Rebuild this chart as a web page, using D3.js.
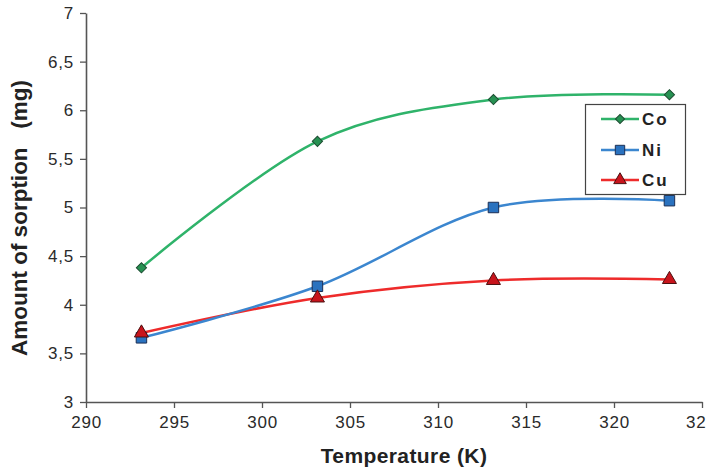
<!DOCTYPE html>
<html>
<head>
<meta charset="utf-8">
<script src="https://cdn.jsdelivr.net/npm/d3@7"></script>
<style>
  body { margin: 0; background: #fff; }
  text { font-family: "Liberation Sans", Arial, sans-serif; }
</style>
</head>
<body>
<div id="chart"></div>
<script>
// Data
const temperatures = [293.15, 303.15, 313.15, 323.15];
const coValues = [4.38, 5.68, 6.11, 6.16];
const niValues = [3.66, 4.19, 5.00, 5.07];
const cuValues = [3.71, 4.07, 4.25, 4.26];
const seriesNames = ['Co', 'Ni', 'Cu'];
const xTicks = [290, 295, 300, 305, 310, 315, 320, 325];
const yTicks = [3, 3.5, 4, 4.5, 5, 5.5, 6, 6.5, 7];

const W = 706, H = 474;
const svg = d3.select('#chart').append('svg')
  .attr('width', W)
  .attr('height', H);

const x = d3.scaleLinear().domain([290, 325]).range([86, 702]);
const y = d3.scaleLinear().domain([3, 7]).range([402, 13]);

const fmt = d => String(d).replace('.', ',');

// Axes
const xAxis = svg.append('g')
  .attr('transform', `translate(0,${y(3)})`)
  .call(d3.axisBottom(x).tickValues(xTicks).tickSize(6).tickSizeOuter(0).tickPadding(5)
    .tickFormat(d => d === 325 ? '32' : d));
const yAxis = svg.append('g')
  .attr('transform', `translate(${x(290)},0)`)
  .call(d3.axisLeft(y).tickValues(yTicks).tickSize(6).tickSizeOuter(0).tickPadding(6)
    .tickFormat(fmt));

[xAxis, yAxis].forEach(a => {
  a.select('.domain').attr('stroke', '#555').attr('stroke-width', 1.6);
  a.selectAll('.tick line').attr('stroke', '#555').attr('stroke-width', 1.3);
  a.selectAll('.tick text')
    .attr('fill', '#2a2a2a')
    .style('font-size', '17px')
    .style('letter-spacing', '0.8px');
});
xAxis.selectAll('.tick text').attr('dy', '0.9em');
// last label is cut by the right edge in the original, keep it inside
xAxis.selectAll('.tick text').filter(d => d === 325)
  .attr('text-anchor', 'end')
  .attr('x', 706 - x(325));

// Axis titles
svg.append('text')
  .attr('x', 404)
  .attr('y', 463)
  .attr('text-anchor', 'middle')
  .style('font-size', '21px')
  .style('font-weight', 'bold')
  .style('letter-spacing', '0.4px')
  .attr('fill', '#222')
  .text('Temperature (K)');

svg.append('text')
  .attr('transform', 'translate(27,218) rotate(-90)')
  .attr('text-anchor', 'middle')
  .style('font-size', '22.5px')
  .style('font-weight', 'bold')
  .attr('fill', '#222')
  .attr('xml:space', 'preserve')
  .text('Amount of sorption   (mg)');

// Series
const series = [
  { name: seriesNames[0], values: coValues, line: '#2fb36a', fill: '#279152', stroke: '#1d4d32', shape: d3.symbolSquare, size: 52, rot: 45 },
  { name: seriesNames[1], values: niValues, line: '#3b86cf', fill: '#2a72bf', stroke: '#1b2f55', shape: d3.symbolSquare, size: 110, rot: 0 },
  { name: seriesNames[2], values: cuValues, line: '#ee2b2b', fill: '#c8141c', stroke: '#4a1010', shape: d3.symbolTriangle, size: 85, rot: 0 }
];

const line = d3.line()
  .x((d, i) => x(temperatures[i]))
  .y(d => y(d))
  .curve(d3.curveCatmullRom.alpha(0));

// draw Cu first so Ni/Co sit over it where they cross
[series[2], series[1], series[0]].forEach(s => {
  svg.append('path')
    .datum(s.values)
    .attr('fill', 'none')
    .attr('stroke', s.line)
    .attr('stroke-width', 2.5)
    .attr('d', line);
});

series.forEach(s => {
  svg.append('g').selectAll('path')
    .data(s.values)
    .join('path')
    .attr('transform', (d, i) => `translate(${x(temperatures[i])},${y(d)}) rotate(${s.rot})`)
    .attr('d', d3.symbol().type(s.shape).size(s.size))
    .attr('fill', s.fill)
    .attr('stroke', s.stroke)
    .attr('stroke-width', 1);
});

// Legend
const legend = svg.append('g');
legend.append('rect')
  .attr('x', 585.5).attr('y', 104.5)
  .attr('width', 100).attr('height', 90)
  .attr('fill', '#fff')
  .attr('stroke', '#444')
  .attr('stroke-width', 1.2);

const legendY = [119, 150, 180];
series.forEach((s, i) => {
  const row = legend.append('g').attr('transform', `translate(0,${legendY[i]})`);
  row.append('line')
    .attr('x1', 601).attr('x2', 639)
    .attr('stroke', s.line).attr('stroke-width', 2.5);
  row.append('path')
    .attr('transform', `translate(620,0) rotate(${s.rot})`)
    .attr('d', d3.symbol().type(s.shape).size(s.size * 0.8))
    .attr('fill', s.fill)
    .attr('stroke', s.stroke)
    .attr('stroke-width', 1);
  row.append('text')
    .attr('x', 642)
    .attr('dy', '0.35em')
    .style('font-size', '17px')
    .style('font-weight', 'bold')
    .style('letter-spacing', '2px')
    .attr('fill', '#222')
    .text(s.name);
});
</script>
</body>
</html>
